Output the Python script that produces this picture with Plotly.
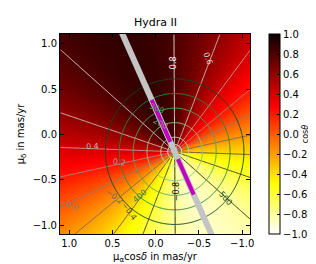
import numpy as np
import plotly.graph_objects as go

# ---- values ----
reflex_center = [-0.22, -0.19]          # (mu_alpha cosdelta, mu_delta) where contours converge
stream_angle_deg = 65.0                 # direction of max cos(theta) in data space
cos_amplitude = 0.88                    # peak |cos(theta)| reached in the map
cos_levels = dict(start=-0.8, end=0.8, size=0.2)
vtan_scale = 625.0                      # km/s per mas/yr
vtan_levels = [50, 100, 200, 300, 400, 500]
vtan_colors = ["#d5efcf", "#b3dfab", "#86c882", "#4daa5c", "#238b45", "#0b4a22"]
magenta_t_upper = [0.12, 0.63]          # extent along stream line (mas/yr)
magenta_t_lower = [-0.09, -0.52]

x_ticks = [1.0, 0.5, 0.0, -0.5, -1.0]
y_ticks = [-1.0, -0.5, 0.0, 0.5, 1.0]
cbar_ticks = [-1.0, -0.8, -0.6, -0.4, -0.2, 0.0, 0.2, 0.4, 0.6, 0.8, 1.0]

cos_label_text = ["0.8", "0.6", "0.4", "0.2", "−0.0", "−0.2", "−0.4", "−0.8"]
cos_label_value = [0.8, 0.6, 0.4, 0.2, 0.0, -0.2, -0.4, -0.8]
cos_label_x = [-0.202, -0.606, 0.734, 0.415, 1.0, 0.479, 0.309, -0.234]
cos_label_y = [0.786, 0.840, -0.134, -0.305, -0.765, -0.679, -0.850, -0.626]
cos_label_angle = [-90, 69, -3, 10, 25, 37, 53, -90]

vt_label_text = ["200", "300", "400", "500"]
vt_label_x = [-0.053, -0.011, 0.191, -0.809]
vt_label_y = [0.123, 0.283, -0.679, -0.701]
vt_label_angle = [28, 24, -40, 49]
vt_label_color = ["#6ab96a", "#4daa5c", "#238b45", "#0b4a22"]

# ---- grid fields ----
gx = np.round(np.linspace(-1.1, 1.1, 221), 3)
gy = np.round(np.linspace(-1.1, 1.1, 221), 3)
X, Y = np.meshgrid(gx, gy)
dx = X - reflex_center[0]
dy = Y - reflex_center[1]
r = np.sqrt(dx**2 + dy**2) + 1e-9
a = np.deg2rad(stream_angle_deg)
z_cos = np.round(cos_amplitude * (dx * np.cos(a) + dy * np.sin(a)) / r, 4)
z_vt = np.round(vtan_scale * r, 2)

hot_r = [[0.0, "rgb(255,255,255)"], [0.254, "rgb(255,255,0)"],
         [0.635, "rgb(255,0,0)"], [1.0, "rgb(11,0,0)"]]

fig = go.Figure()
fig.add_trace(go.Heatmap(
    x=gx, y=gy, z=z_cos, colorscale=hot_r, zmin=-1, zmax=1, zsmooth="best",
    hoverinfo="skip",
    colorbar=dict(
        x=1.102, xanchor="left", xpad=0, ypad=0, y=0.5, yanchor="middle",
        len=1, lenmode="fraction",
        thickness=11, outlinecolor="black", outlinewidth=1,
        tickvals=cbar_ticks, tickformat=".1f", ticks="inside", ticklen=3,
        tickcolor="black", tickfont=dict(size=10, color="black"),
        title=dict(text="cos<i>θ</i>", side="right", font=dict(size=8)),
    ),
))
fig.add_trace(go.Contour(
    x=gx, y=gy, z=z_cos, autocontour=False,
    contours=dict(start=cos_levels["start"], end=cos_levels["end"],
                  size=cos_levels["size"], coloring="lines", showlabels=False),
    colorscale=[[0, "black"], [1, "white"]], zmin=-0.8, zmax=0.8,
    showscale=False, line=dict(width=1), opacity=0.85, hoverinfo="skip",
))
fig.add_trace(go.Contour(
    x=gx, y=gy, z=z_vt, autocontour=False,
    contours=dict(start=vtan_levels[1], end=vtan_levels[-1], size=100,
                  coloring="lines", showlabels=False),
    colorscale=[[i / 4, c] for i, c in enumerate(vtan_colors[1:])],
    zmin=vtan_levels[1], zmax=vtan_levels[-1],
    showscale=False, line=dict(width=1), hoverinfo="skip",
))
fig.add_trace(go.Contour(
    x=gx, y=gy, z=z_vt, autocontour=False,
    contours=dict(start=vtan_levels[0], end=vtan_levels[0], size=1,
                  coloring="none", showlabels=False),
    line=dict(width=1, color=vtan_colors[0]), showscale=False, hoverinfo="skip",
))

# stream direction line and magenta range
ca, sa = np.cos(a), np.sin(a)
tl = [-2.0, 2.0]
fig.add_trace(go.Scatter(
    x=[reflex_center[0] + t * ca for t in tl], y=[reflex_center[1] + t * sa for t in tl],
    mode="lines", line=dict(color="#c4c4c4", width=6), hoverinfo="skip",
))
mx, my = [], []
for seg in (magenta_t_upper, magenta_t_lower):
    mx += [reflex_center[0] + t * ca for t in seg] + [None]
    my += [reflex_center[1] + t * sa for t in seg] + [None]
fig.add_trace(go.Scatter(x=mx, y=my, mode="lines",
                         line=dict(color="#bf00bf", width=4), hoverinfo="skip"))

ann = []
for t, v, x, y, ang in zip(cos_label_text, cos_label_value, cos_label_x, cos_label_y, cos_label_angle):
    g = int(round((v + 0.8) / 1.6 * 235)) + 10
    ann.append(dict(x=x, y=y, xref="x", yref="y", text=t, showarrow=False, textangle=ang,
                    font=dict(size=8, color=f"rgb({g},{g},{g})")))
for t, x, y, ang, c in zip(vt_label_text, vt_label_x, vt_label_y, vt_label_angle, vt_label_color):
    ann.append(dict(x=x, y=y, xref="x", yref="y", text=t, showarrow=False, textangle=ang,
                    font=dict(size=8, color=c)))
ann.append(dict(x=0.5, y=1, xref="paper", yref="paper", yanchor="bottom", yshift=3,
                text="Hydra II", showarrow=False, font=dict(size=11, color="black")))

axis_common = dict(ticks="inside", ticklen=4, tickcolor="black", mirror="allticks",
                   showline=True, linecolor="black", linewidth=1, showgrid=False,
                   zeroline=False, tickformat=".1f", tickfont=dict(size=10))
fig.update_layout(
    width=316, height=264, margin=dict(l=38, r=72, t=26, b=32),
    paper_bgcolor="white", plot_bgcolor="white", showlegend=False,
    font=dict(family="DejaVu Sans", size=10, color="black"),
    xaxis=dict(range=[1.105, -1.09], tickvals=x_ticks,
               title=dict(text="μ<sub>α</sub>cos<i>δ</i> in mas/yr", font=dict(size=10), standoff=4),
               **axis_common),
    yaxis=dict(range=[-1.095, 1.105], tickvals=y_ticks,
               title=dict(text="μ<sub>δ</sub> in mas/yr", font=dict(size=10), standoff=6),
               **axis_common),
    annotations=ann,
)
fig.write_html("out.html")
